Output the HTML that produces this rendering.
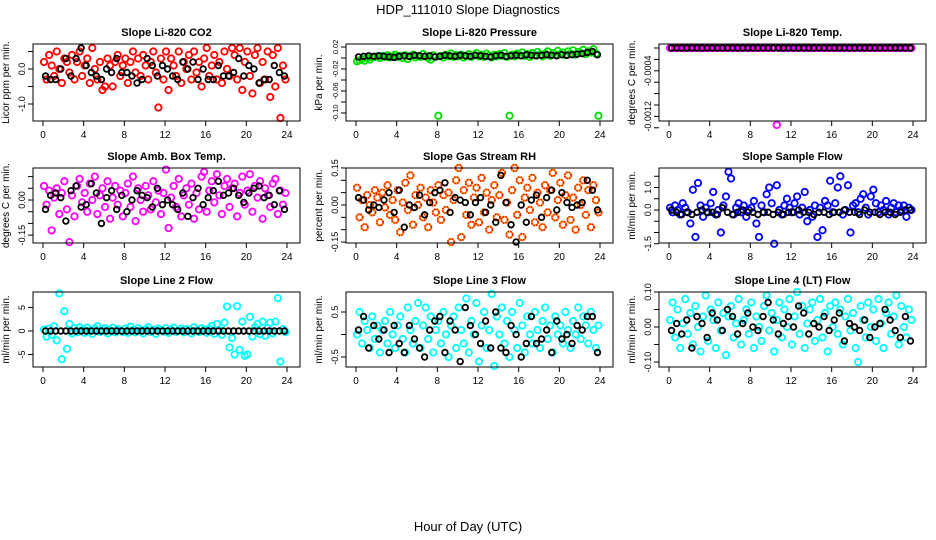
<!DOCTYPE html>
<html><head><meta charset="utf-8">
<style>
html,body{margin:0;padding:0;background:#fff;}
svg{display:block;font-family:"Liberation Sans",Arial,sans-serif;}
</style></head>
<body>
<svg id="chart" width="936" height="540" viewBox="0 0 936 540" xmlns="http://www.w3.org/2000/svg">
<text x="468" y="14" font-size="13" text-anchor="middle">HDP_111010  Slope Diagnostics</text>
<text x="468" y="531" font-size="13" text-anchor="middle">Hour of Day (UTC)</text>
</svg>
<script>
const xTicks = [0,4,8,12,16,20,24];
const titles = ["Slope Li-820 CO2","Slope Li-820 Pressure","Slope Li-820 Temp.","Slope Amb. Box Temp.","Slope Gas Stream RH","Slope Sample Flow","Slope Line 2 Flow","Slope Line 3 Flow","Slope Line 4 (LT) Flow"];
const yTitles = ["Licor ppm per min.","kPa per min.","degrees C per min.","degrees C per min.","percent per min.","ml/min per min.","ml/min per min.","ml/min per min.","ml/min per min."];

const co2 = [0.2,-0.3,0.4,0.1,-0.2,0.5,0.0,-0.4, 0.3,0.2,-0.1,0.4,-0.3,0.2,0.5,-0.2, 0.1,0.3,-0.4,0.6,0.0,-0.3,0.2,-0.6, -0.5,0.3,0.1,-0.5,0.2,0.4,-0.2,0.1, 0.3,-0.4,0.2,0.5,-0.1,0.3,-0.2,0.4, 0.1,-0.3,0.2,0.5,-0.1,-1.1,0.3,-0.3, 0.5,-0.6,0.3,0.1,-0.2,0.5,-0.4,0.2, 0.0,0.4,-0.3,0.5,-0.1,0.2,-0.5,0.3, 0.6,-0.2,0.1,0.4,-0.3,0.2,-0.4,0.5, 0.0,-0.2,0.6,0.4,-0.3,0.6,-0.6,0.2, 0.5,-0.2,-0.7,0.4,0.6,-0.4,0.2,-0.3, 0.5,-0.8,0.4,-0.5,0.6,-1.4,0.1,-0.3];
const co2Ref = [-0.2,-0.3,-0.3,0.0,0.3,-0.2,0.3,0.6, 0.1,-0.1,-0.2,-0.3,0.0,-0.1,0.3,-0.1, -0.1,-0.2,-0.4,-0.3,0.3,0.1,-0.2,0.1, 0.0,-0.2,-0.3,0.2,0.0,0.2,-0.3,0.0, -0.3,-0.3,0.1,-0.2,-0.2,-0.1,0.3,-0.2, 0.1,0.0,-0.4,-0.3,-0.3,0.1,-0.1,-0.2];
const pres = [-0.006,-0.004,-0.002,-0.005,0.000,-0.003,0.001,0.002, 0.003,0.000,0.004,0.002,0.005,0.001,0.003,0.006, 0.002,0.004,0.000,0.005,-0.002,0.003,0.006,0.001, 0.004,0.002,0.007,0.003,0.000,-0.003,0.005,0.002, -0.105,0.004,0.001,0.006,0.003,0.008,0.002,0.005, 0.003,0.006,0.001,0.004,0.007,0.002,0.005,0.009, 0.003,0.006,0.002,0.008,0.004,0.001,0.006,0.003, 0.007,0.004,0.009,0.002,-0.105,0.006,0.003,0.008, 0.005,0.010,0.004,0.007,0.002,0.009,0.005,0.011, 0.006,0.003,0.008,0.012,0.004,0.009,0.006,0.013, 0.007,0.010,0.005,0.012,0.008,0.014,0.006,0.011, 0.009,0.015,0.007,0.012,0.010,0.016,0.008,-0.105];
const presRef = [0.002,0.003,0.004,0.003,0.004,0.003,0.002,0.001, 0.003,0.004,0.003,0.005,0.004,0.003,0.004,0.002, 0.003,0.005,0.004,0.003,0.005,0.004,0.003,0.005, 0.004,0.003,0.002,0.004,0.005,0.003,0.004,0.005, 0.004,0.006,0.005,0.004,0.005,0.006,0.005,0.004, 0.006,0.005,0.006,0.007,0.008,0.010,0.012,0.006];
const temp = [0,0,0,0,0,0,0,0, 0,0,0,0,0,0,0,0, 0,0,0,0,0,0,0,0, 0,0,0,0,0,0,0,0, 0,0,0,0,0,0,0,0, 0,0,-0.00135,0,0,0,0,0, 0,0,0,0,0,0,0,0, 0,0,0,0,0,0,0,0, 0,0,0,0,0,0,0,0, 0,0,0,0,0,0,0,0, 0,0,0,0,0,0,0,0, 0,0,0,0,0,0,0,0];
const tempRef = [0,0,0,0,0,0,0,0, 0,0,0,0,0,0,0,0, 0,0,0,0,0,0,0,0, 0,0,0,0,0,0,0,0, 0,0,0,0,0,0,0,0, 0,0,0,0,0,0,0,0];
const amb = [0.06,-0.02,0.04,-0.13,0.01,0.05,-0.06,0.03, 0.08,-0.04,-0.18,0.02,-0.07,0.06,0.09,-0.01, 0.03,-0.05,0.07,0.00,0.10,-0.06,0.02,0.05, -0.03,0.08,-0.08,0.01,0.06,-0.02,0.04,-0.07, 0.03,0.07,-0.03,0.10,-0.09,0.05,0.00,-0.05, 0.06,0.02,-0.04,0.08,-0.01,0.04,-0.06,0.03, 0.13,-0.12,0.01,0.06,-0.03,0.09,-0.07,0.02, 0.05,-0.02,0.07,-0.08,0.03,-0.04,0.10,0.12, -0.05,0.04,0.08,-0.01,0.11,0.02,-0.06,0.06, 0.09,-0.03,0.05,0.07,-0.07,0.03,0.10,-0.02, 0.04,0.11,-0.05,0.06,0.01,0.08,-0.08,0.05, 0.02,-0.03,0.07,0.09,-0.06,0.04,-0.02,0.03];
const ambRef = [-0.04,0.02,0.03,0.01,-0.09,0.04,0.06,-0.03, -0.02,0.07,0.03,-0.10,0.01,0.04,-0.04,0.02, -0.05,0.00,0.04,0.02,0.01,-0.03,0.05,-0.02, 0.00,-0.02,-0.04,0.03,-0.07,0.01,0.05,-0.02, 0.01,0.04,0.08,0.02,0.03,0.05,0.02,-0.01, 0.03,0.05,0.06,0.01,0.02,-0.02,0.04,-0.04];
const rh = [0.07,-0.05,0.02,-0.09,0.04,0.00,-0.03,0.06, 0.03,-0.07,0.05,-0.01,0.08,-0.04,0.02,-0.06, 0.06,-0.11,0.01,0.09,-0.02,0.12,-0.08,0.04, 0.00,0.07,-0.05,0.03,-0.09,0.06,0.01,-0.03, 0.08,-0.06,0.04,-0.02,0.05,-0.15,0.02,0.10, 0.15,-0.13,0.06,-0.04,0.09,-0.08,0.03,0.07, -0.07,0.11,-0.03,0.05,-0.10,0.02,0.08,-0.05, 0.04,0.13,-0.06,0.01,-0.12,0.06,0.15,-0.04, 0.10,-0.13,0.03,0.07,-0.02,0.11,-0.07,0.05, 0.01,-0.09,0.08,-0.03,0.06,0.13,-0.05,0.02, 0.09,-0.08,0.04,0.12,-0.06,0.03,-0.10,0.07, 0.00,0.10,-0.04,0.06,-0.09,0.08,0.02,-0.03];
const rhRef = [0.03,0.02,-0.02,0.00,-0.01,0.02,0.05,-0.03, 0.06,-0.09,0.00,-0.01,0.04,-0.04,0.01,0.05, 0.06,0.09,-0.03,0.03,0.02,0.01,-0.04,0.01, 0.03,-0.03,0.00,-0.07,0.12,0.01,-0.08,-0.15, 0.00,-0.07,0.02,0.04,-0.05,0.03,0.06,-0.02, 0.05,0.01,-0.01,0.00,0.01,0.10,0.06,-0.02];
const sflow = [0.1,-0.1,0.2,0.0,-0.2,0.3,0.1,-0.1, -0.6,0.9,-1.2,1.2,0.2,-0.3,0.1,-0.1, 0.3,0.8,-0.2,0.0,-1.0,0.2,0.6,1.7, 1.4,-0.2,0.1,0.3,-0.1,0.2,-0.3,0.0, 0.1,0.4,-0.6,-1.2,0.2,-0.1,0.7,1.0, 0.3,-1.5,1.1,0.0,-0.2,0.2,0.5,0.1, -0.1,0.3,0.6,-0.2,0.1,0.8,-0.5,0.0, -0.3,0.2,-1.2,0.1,-0.9,0.4,0.2,1.3, -0.1,0.3,1.0,1.5,-0.2,0.0,1.1,-1.0, 0.2,0.3,-0.1,0.5,0.7,0.1,-0.2,0.6, 0.9,0.3,-0.1,0.2,0.0,0.4,-0.2,0.1, 0.3,-0.1,0.2,0.0,0.2,-0.3,0.1,0.0];
const sflowRef = [0.0,-0.1,-0.2,-0.1,-0.2,-0.1,0.0,-0.1, -0.1,-0.2,0.1,-0.1,-0.2,-0.1,0.0,-0.1, -0.1,-0.2,-0.1,-0.1,-0.2,-0.1,-0.2,-0.1, -0.1,0.0,-0.1,-0.1,-0.2,-0.1,-0.1,-0.2, -0.1,-0.1,0.0,-0.1,-0.1,-0.2,0.0,-0.1, -0.1,-0.2,-0.1,-0.1,-0.2,-0.1,0.0,0.0];
const line2 = [0.3,-1.2,0.5,-0.8,1.0,-2.0,8.0,-6.0, 4.2,-3.8,1.5,-0.5,0.6,-0.3,0.8,0.2, -0.4,0.7,0.1,-0.6,0.5,1.0,-0.2,0.3, 0.6,-0.5,0.2,0.7,-0.3,0.4,0.1,-0.2, 0.5,-0.4,0.9,0.2,-0.3,0.6,0.1,-0.5, 0.4,0.8,-0.2,0.3,-0.6,0.5,0.2,-0.1, 0.6,-0.4,0.3,0.7,-0.2,0.1,0.5,-0.3, 0.4,0.2,-0.5,0.8,0.1,-0.2,0.6,0.3, -0.4,0.5,1.1,-0.6,1.5,0.2,-0.8,1.8, 5.2,-3.5,-1.5,-5.0,5.3,-4.0,2.0,-5.3, -5.0,3.0,-1.2,0.8,1.5,-0.7,2.0,-1.0, 0.6,1.8,-0.5,2.0,7.0,-6.5,0.4,-0.2];
const line2Ref = [0,0,0,0,0,0,0,0, 0,0,0,0,0,0,0,0, 0,0,0,0,0,0,0,0, 0,0,0,0,0,0,0,0, 0,0,0,0,0,0,0,0, 0,0,0,0,0,0,0,0];
const line3 = [0.0,0.5,-0.2,0.3,0.1,-0.3,0.4,-0.1, 0.2,-0.4,0.1,0.3,-0.2,0.5,0.0,-0.3, 0.2,0.4,-0.1,-0.4,0.6,0.1,-0.2,0.3, 0.7,-0.3,0.2,0.6,-0.1,0.4,-0.4,0.1, 0.3,-0.2,0.5,0.0,-0.5,0.2,0.4,-0.3, 0.6,0.1,-0.2,0.8,-0.4,0.3,0.0,0.7, -0.6,0.2,0.5,-0.3,0.1,0.9,-0.7,0.4, 0.0,0.6,-0.2,0.3,-0.5,0.5,0.1,-0.3, 0.7,0.2,-0.4,0.4,0.0,-0.2,0.5,0.1, -0.3,0.3,0.6,-0.1,0.2,-0.4,0.4,0.0, 0.2,-0.2,0.5,0.1,-0.3,0.3,0.0,0.6, -0.1,0.4,0.2,-0.2,0.5,0.1,-0.3,0.2];
const line3Ref = [0.1,0.4,-0.3,0.2,-0.1,0.1,-0.4,0.2, -0.2,-0.4,0.2,-0.1,-0.3,-0.5,0.1,0.3, 0.4,-0.4,0.3,0.1,-0.6,0.6,0.2,0.0, -0.2,0.3,-0.3,0.5,-0.3,-0.4,0.2,0.0, -0.5,-0.2,0.4,-0.2,-0.1,0.1,-0.4,0.3, -0.1,0.0,-0.2,0.2,0.1,0.4,0.4,-0.4];
const line4 = [0.02,0.07,-0.03,0.05,-0.06,0.01,0.08,-0.02, 0.04,-0.05,0.06,0.00,-0.07,0.03,0.09,-0.04, 0.05,0.02,-0.06,0.07,-0.01,0.04,-0.08,0.03, 0.06,-0.03,0.01,0.08,-0.05,0.02,0.05,-0.02, 0.07,-0.06,0.03,0.00,-0.04,0.06,0.09,-0.01, 0.04,-0.07,0.02,0.07,-0.03,0.05,0.00,0.08, -0.05,0.03,0.10,-0.02,0.06,-0.06,0.01,0.05, 0.07,-0.04,0.02,0.08,-0.03,0.04,-0.07,0.06, 0.00,0.07,-0.02,0.05,-0.05,0.03,0.08,-0.01, 0.04,-0.06,-0.10,0.06,0.02,-0.03,0.07,0.00, 0.05,-0.04,0.08,0.01,-0.06,0.04,0.07,-0.02, 0.03,0.09,-0.05,0.06,0.00,-0.03,0.05,0.02];
const line4Ref = [-0.01,0.01,-0.02,0.02,-0.06,0.03,0.01,-0.03, 0.04,0.02,-0.01,0.05,0.03,-0.02,0.01,0.04, 0.00,-0.01,0.03,0.07,0.02,-0.02,0.01,0.03, 0.00,0.06,0.04,-0.02,0.01,0.00,0.03,-0.01, 0.02,0.04,-0.04,0.01,0.00,-0.01,0.02,-0.03, 0.00,0.01,0.05,0.02,-0.01,-0.03,0.03,-0.04];

const yTicks = [[0.5,0,-0.5,-1.0],[0.02,0,-0.02,-0.04,-0.06,-0.08,-0.10],[0,-0.0002,-0.0004,-0.0006,-0.0008,-0.001,-0.0012,-0.0014],[0.10,0.05,0,-0.05,-0.10,-0.15],[0.15,0.10,0.05,0,-0.05,-0.10,-0.15],[1.5,1.0,0.5,0,-0.5,-1.0,-1.5],[5,0,-5],[0.5,0,-0.5],[0.10,0.05,0,-0.05,-0.10]];
const yTickLabels = [["","0.0","","-1.0"],["0.02","","-0.02","","-0.06","","-0.10"],["","","-0.0004","","","","-0.0012",""],["","","0.00","","","-0.15"],["0.15","","","0.00","","","-0.15"],["","1.0","","0.0","","","-1.5"],["5","0","-5"],["0.5","","-0.5"],["0.10","","0.00","","-0.10"]];

// layout (not data)
const series = [co2,pres,temp,amb,rh,sflow,line2,line3,line4];
const refs = [co2Ref,presRef,tempRef,ambRef,rhRef,sflowRef,line2Ref,line3Ref,line4Ref];
const colors = ["#ff0000","#00dd00","#ff00ff","#ff00ff","#ffa500","#0000ff","#00ffff","#00ffff","#00ffff"];
const yZeroPx = [69,58,48,200,205,210,331,334.5,327];
const yScalePx = [35,550,57000,234,247,22.5,4.7,45,350];
const rowTop = [44,168,292], rowBot = [121,243,367];
const NS = "http://www.w3.org/2000/svg";
const svg = document.getElementById('chart');
function mk(tag, attrs, parent){const e=document.createElementNS(NS,tag);for(const k in attrs)e.setAttribute(k,attrs[k]);(parent||svg).appendChild(e);return e;}

for(let p=0;p<9;p++){
  const r=Math.floor(p/3), c=p%3;
  const x0=43+313*c, xw=244;
  const xs=h=>x0+h*xw/24;
  const ys=v=>yZeroPx[p]-v*yScalePx[p];
  const left=x0-10, right=x0+257, top=rowTop[r], bot=rowBot[r];
  const g=mk('g',{});
  
  
  const t=mk('text',{x:(left+right)/2,y:top-8,'font-size':11,'font-weight':'bold','text-anchor':'middle'},g);
  t.textContent=titles[p];
  
  
  const yt=mk('text',{transform:`translate(${left-24},${(top+bot)/2}) rotate(-90)`,'font-size':10,'text-anchor':'middle'},g);
  yt.textContent=yTitles[p];
  
  
  series[p].forEach((v,i)=>{
    const cx=xs(0.1+i*0.25), cy=ys(v);
    const ci=mk('circle',{cx:cx,cy:cy,r:3.2,fill:'none',stroke:p===4?'#ff8c00':colors[p],'stroke-width':1.8},g);
    
    
    if(p===4){const d=mk('circle',{cx:cx,cy:cy,r:3.2,fill:'none',stroke:'#ee1100','stroke-width':1.8,'stroke-dasharray':'1.2 1.4'},g);
      
      }
  });
  refs[p].forEach((v,i)=>{
    const ci=mk('circle',{cx:xs(0.25+i*0.5),cy:ys(v),r:2.8,fill:'none',stroke:'#000','stroke-width':1.8},g);
    
    
  });
  const box=mk('rect',{x:left,y:top,width:right-left,height:bot-top,fill:'none',stroke:'#000','stroke-width':1},g);
  
  
  xTicks.forEach(h=>{
    const x=xs(h);
    const l=mk('line',{x1:x,x2:x,y1:bot,y2:bot+5,stroke:'#000'},g);
    
    
    const tx=mk('text',{x:x,y:bot+17,'font-size':10,'text-anchor':'middle'},g);
    tx.textContent=h;
    
    
  });
  yTicks[p].forEach((v,i)=>{
    const y=ys(v);
    const l=mk('line',{x1:left-5,x2:left,y1:y,y2:y,stroke:'#000'},g);
    
    
    if(yTickLabels[p][i]){
      const tx=mk('text',{transform:`translate(${left-8},${y}) rotate(-90)`,'font-size':p===1?7.5:9,'text-anchor':'middle'},g);
      tx.textContent=yTickLabels[p][i];
      
      
    }
  });
}
</script>
</body></html>
